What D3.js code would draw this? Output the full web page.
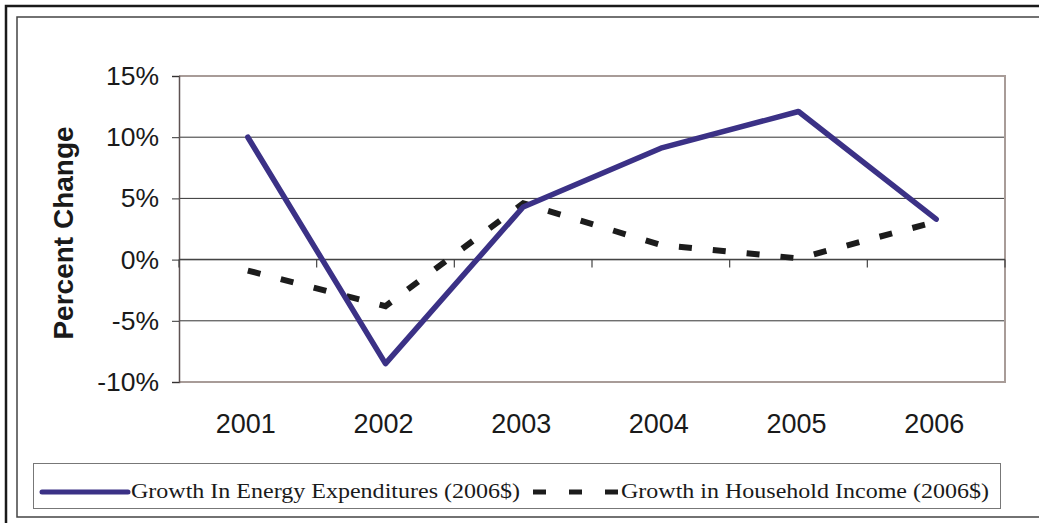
<!DOCTYPE html>
<html>
<head>
<meta charset="utf-8">
<script src="https://cdn.jsdelivr.net/npm/d3@7"></script>
<style>
  body { margin: 0; background: #fff; }
  svg { display: block; }
</style>
</head>
<body>
<script>
// chart values
var years = ["2001", "2002", "2003", "2004", "2005", "2006"];
var energyGrowth = [10.0, -8.5, 4.3, 9.1, 12.1, 3.3];
var incomeGrowth = [-0.9, -3.8, 4.6, 1.2, 0.1, 3.1];
var yTicks = [-10, -5, 0, 5, 10, 15];
var seriesNames = ["Growth In Energy Expenditures (2006$)", "Growth in Household Income (2006$)"];

var width = 1039, height = 523;
var plot = {left: 179, right: 1005, top: 76, bottom: 382};

var svg = d3.select("body").append("svg")
    .attr("width", width)
    .attr("height", height);

// outer frame
svg.append("path")
    .attr("d", "M6,523 V6 H1039")
    .attr("fill", "none")
    .attr("stroke", "#1a1a1a")
    .attr("stroke-width", 2.5);
svg.append("path")
    .attr("d", "M1039,17 H17 V517 H1039")
    .attr("fill", "none")
    .attr("stroke", "#444")
    .attr("stroke-width", 1.5);

var x = d3.scaleBand()
    .domain(years)
    .range([plot.left, plot.right])
    .padding(0);

var y = d3.scaleLinear()
    .domain([-10, 15])
    .range([plot.bottom, plot.top]);

function cx(d) { return x(d) + x.bandwidth() / 2; }

// gridlines
svg.selectAll(".grid")
    .data(yTicks.filter(function(t) { return t > -10 && t < 15; }))
    .enter().append("line")
    .attr("class", "grid")
    .attr("x1", plot.left).attr("x2", plot.right)
    .attr("y1", function(d) { return y(d); })
    .attr("y2", function(d) { return y(d); })
    .attr("stroke", "#333")
    .attr("stroke-width", 1);

// plot border top/right/bottom
svg.append("path")
    .attr("d", "M" + plot.left + "," + y(15) + " H" + plot.right + " V" + y(-10) + " H" + plot.left)
    .attr("fill", "none")
    .attr("stroke", "#a89c98")
    .attr("stroke-width", 2);

// y axis
var yAxis = d3.axisLeft(y)
    .tickValues(yTicks)
    .tickSize(7)
    .tickPadding(13)
    .tickFormat(function(d) { return d + "%"; });

var gy = svg.append("g")
    .attr("transform", "translate(" + plot.left + ",0)")
    .call(yAxis);
gy.select(".domain").attr("stroke", "#5e5252").attr("stroke-width", 1.5);
gy.selectAll(".tick line").attr("stroke", "#333");
gy.selectAll(".tick text")
    .attr("font-family", "Liberation Sans, Arial, sans-serif")
    .attr("font-size", 26.5)
    .attr("fill", "#1a1a1a");

// x axis at 0% with category boundary ticks
var gx = svg.append("g")
    .attr("transform", "translate(0," + y(0) + ")");
gx.append("line")
    .attr("x1", plot.left).attr("x2", plot.right)
    .attr("stroke", "#444").attr("stroke-width", 1.5);
var bounds = years.map(function(d) { return x(d); }).concat([plot.right]);
gx.selectAll(".xt")
    .data(bounds)
    .enter().append("line")
    .attr("class", "xt")
    .attr("x1", function(d) { return d; })
    .attr("x2", function(d) { return d; })
    .attr("y1", 0).attr("y2", 8)
    .attr("stroke", "#444").attr("stroke-width", 1.2);

// year labels below plot
svg.selectAll(".year")
    .data(years)
    .enter().append("text")
    .attr("class", "year")
    .attr("x", function(d) { return cx(d) - 2; })
    .attr("y", 433)
    .attr("text-anchor", "middle")
    .attr("font-family", "Liberation Sans, Arial, sans-serif")
    .attr("font-size", 27)
    .attr("fill", "#1a1a1a")
    .text(function(d) { return d; });

// y axis title
svg.append("text")
    .attr("transform", "translate(73,233) rotate(-90)")
    .attr("text-anchor", "middle")
    .attr("font-family", "Liberation Sans, Arial, sans-serif")
    .attr("font-weight", "bold")
    .attr("font-size", 28)
    .attr("fill", "#1a1a1a")
    .text("Percent Change");

var line = d3.line()
    .x(function(d, i) { return cx(years[i]); })
    .y(function(d) { return y(d); });

svg.append("path")
    .datum(incomeGrowth)
    .attr("d", line)
    .attr("fill", "none")
    .attr("stroke", "#1c1c1c")
    .attr("stroke-width", 6)
    .attr("stroke-dasharray", "13,21");

svg.append("path")
    .datum(energyGrowth)
    .attr("d", line)
    .attr("fill", "none")
    .attr("stroke", "#3b3186")
    .attr("stroke-width", 5.5)
    .attr("stroke-linecap", "round")
    .attr("stroke-linejoin", "round");

// legend
var legend = svg.append("g");
legend.append("rect")
    .attr("x", 33.5).attr("y", 463.5)
    .attr("width", 967).attr("height", 45)
    .attr("fill", "#fff")
    .attr("stroke", "#777").attr("stroke-width", 1);

legend.append("line")
    .attr("x1", 42).attr("x2", 128)
    .attr("y1", 492).attr("y2", 492)
    .attr("stroke", "#3b3186").attr("stroke-width", 5)
    .attr("stroke-linecap", "round");
legend.append("text")
    .attr("x", 131).attr("y", 498)
    .attr("font-family", "Liberation Serif, Times New Roman, serif")
    .attr("font-size", 22)
    .attr("textLength", 389)
    .attr("lengthAdjust", "spacingAndGlyphs")
    .attr("fill", "#1a1a1a")
    .text(seriesNames[0]);

legend.append("line")
    .attr("x1", 533).attr("x2", 618)
    .attr("y1", 492).attr("y2", 492)
    .attr("stroke", "#1c1c1c").attr("stroke-width", 5)
    .attr("stroke-dasharray", "13,23");
legend.append("text")
    .attr("x", 621).attr("y", 498)
    .attr("font-family", "Liberation Serif, Times New Roman, serif")
    .attr("font-size", 22)
    .attr("textLength", 368)
    .attr("lengthAdjust", "spacingAndGlyphs")
    .attr("fill", "#1a1a1a")
    .text(seriesNames[1]);
</script>
</body>
</html>
